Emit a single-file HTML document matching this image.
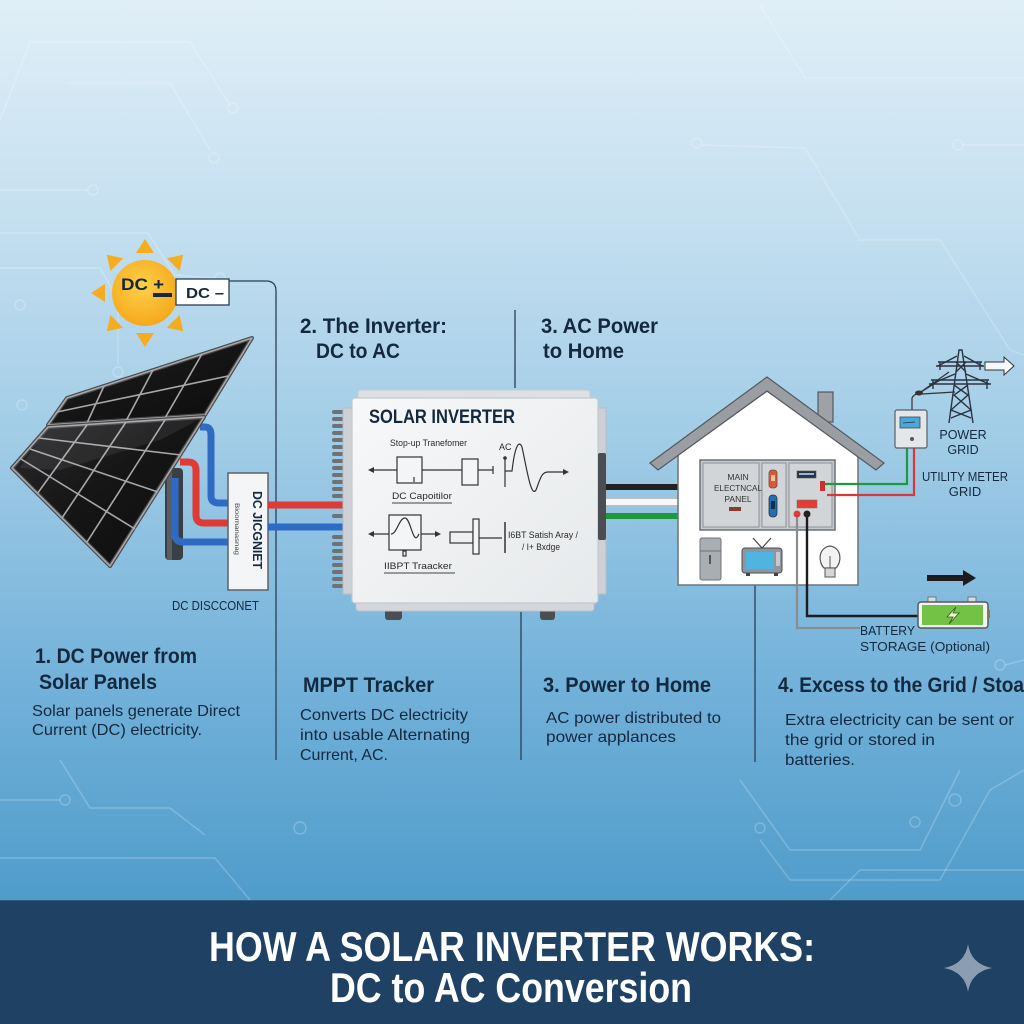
<!DOCTYPE html>
<html><head><meta charset="utf-8"><style>
html,body{margin:0;padding:0;width:1024px;height:1024px;overflow:hidden;}
svg{display:block}
.t{font-family:"Liberation Sans Narrow","Liberation Sans",sans-serif;fill:#14283e}
.b{font-weight:bold}
</style></head><body>
<svg width="1024" height="1024" viewBox="0 0 1024 1024" xmlns="http://www.w3.org/2000/svg">
<defs>
<linearGradient id="bg" x1="0" y1="0" x2="0" y2="1">
<stop offset="0" stop-color="#e0eff7"/>
<stop offset="0.25" stop-color="#c4dff0"/>
<stop offset="0.5" stop-color="#9fcbe6"/>
<stop offset="0.75" stop-color="#74b2da"/>
<stop offset="1" stop-color="#4f9ccb"/>
</linearGradient>
<radialGradient id="sun" cx="0.45" cy="0.4" r="0.6">
<stop offset="0" stop-color="#ffd04a"/>
<stop offset="1" stop-color="#f5a91c"/>
</radialGradient>
<linearGradient id="inv" x1="0" y1="0" x2="1" y2="1">
<stop offset="0" stop-color="#f7f8f9"/>
<stop offset="1" stop-color="#e6e9eb"/>
</linearGradient>
<linearGradient id="pan" x1="0" y1="0" x2="1" y2="1">
<stop offset="0" stop-color="#2c2c2e"/>
<stop offset="0.45" stop-color="#161617"/>
<stop offset="1" stop-color="#0c0c0d"/>
</linearGradient>
</defs>

<rect x="0" y="0" width="1024" height="900" fill="url(#bg)"/>

<!-- faint circuit lines -->
<g fill="none" stroke="#ffffff" stroke-opacity="0.22" stroke-width="1.5">
<path d="M0,120 L30,42 L190,42 L230,105"/>
<circle cx="233" cy="108" r="5"/>
<path d="M68,83 L170,83 L210,150"/>
<circle cx="214" cy="158" r="5"/>
<path d="M0,190 L88,190"/><circle cx="93" cy="190" r="5"/>
<path d="M0,233 L148,233 L175,275 L214,278"/><circle cx="220" cy="278" r="5"/>
<path d="M0,268 L100,268 L118,300 L118,365"/><circle cx="118" cy="372" r="5"/>
<circle cx="20" cy="305" r="5"/><circle cx="22" cy="405" r="5"/>
<path d="M760,5 L805,78 L1024,78"/>
<path d="M702,145 L805,148 L860,240 L940,240 L1010,350 L1024,355"/>
<circle cx="697" cy="143" r="5"/>
<path d="M962,145 L1024,145"/><circle cx="958" cy="145" r="5"/>
<path d="M0,800 L60,800"/><circle cx="65" cy="800" r="5"/>
<path d="M60,760 L90,808 L170,808 L205,835"/><circle cx="300" cy="828" r="6"/>
<path d="M0,858 L215,858 L250,900"/>
<path d="M740,780 L790,850 L920,850 L945,800 L960,770"/>
<path d="M760,840 L790,880 L940,880 L990,790 L1024,770"/>
<path d="M830,900 L860,870 L1024,870"/>
<circle cx="760" cy="828" r="5"/><circle cx="915" cy="822" r="5"/><circle cx="955" cy="800" r="6"/>
<circle cx="1000" cy="665" r="5"/><path d="M1005,665 L1024,660"/>
</g>

<!-- divider lines -->
<g stroke="#2b3f55" stroke-width="1.3" fill="none">
<path d="M229,281 L266,281 Q276,281 276,291 L276,760"/>
<line x1="515" y1="310" x2="515" y2="388"/>
<line x1="521" y1="612" x2="521" y2="760"/>
<line x1="755" y1="585" x2="755" y2="762"/>
</g>

<!-- sun -->
<g fill="#f5ad1f">
<polygon points="145,239 136,253 154,253"/>
<polygon points="183.2,254.8 179.6,271.1 166.9,258.3"/>
<polygon points="183.2,331.2 166.9,327.7 179.6,314.9"/>
<polygon points="145,347 136,333 154,333"/>
<polygon points="106.8,331.2 123.1,327.7 110.4,314.9"/>
<polygon points="91,293 105,284 105,302"/>
<polygon points="106.8,254.8 123.1,258.3 110.4,271.1"/>
</g>
<circle cx="145" cy="293" r="33" fill="url(#sun)"/>
<text x="121" y="290" class="t b" font-size="17" textLength="43" lengthAdjust="spacingAndGlyphs">DC +</text>
<rect x="153" y="293" width="19" height="4" fill="#14283e"/>
<rect x="176" y="279" width="53" height="26" fill="#ffffff" stroke="#2b3f55" stroke-width="1.3"/>
<text x="186" y="298" class="t b" font-size="15" textLength="38" lengthAdjust="spacingAndGlyphs">DC –</text>

<!-- pole -->
<rect x="165" y="468" width="18" height="92" rx="4" fill="#3b3f44"/>
<rect x="167" y="468" width="5" height="92" fill="#5a5f64"/>

<!-- cables from panel -->
<g fill="none" stroke-linecap="butt" stroke-width="7">
<path d="M200,427 L205,427 Q211,427 211,435 L211,496 Q211,503 219,503 L230,503" stroke="#2f6bc4"/>
<path d="M180,462 L188,462 Q196,462 196,470 L196,515 Q196,523 204,523 L230,523" stroke="#e03a35"/>
<path d="M175,478 L175,534 Q175,542 183,542 L230,542" stroke="#2f6bc4"/>
</g>

<!-- solar panels -->
<g stroke-linejoin="round">
<polygon points="67,398 252,338 205,415 48,425" fill="url(#pan)" stroke="#4a4a4c" stroke-width="4"/>
<g stroke="#a8a8aa" stroke-width="1.6" fill="none">
<line x1="104" y1="386" x2="87" y2="423"/>
<line x1="153" y1="370" x2="126" y2="421"/>
<line x1="202" y1="354" x2="165" y2="418"/>
<line x1="57" y1="412" x2="228" y2="376"/>
<polygon points="67,398 252,338 205,415 48,425"/>
</g>
<polygon points="48,427 204,417 110,566 12,468" fill="url(#pan)" stroke="#4a4a4c" stroke-width="4"/>
<g stroke="#a8a8aa" stroke-width="1.6" fill="none">
<line x1="87" y1="425" x2="37" y2="494"/>
<line x1="126" y1="422" x2="62" y2="518"/>
<line x1="165" y1="420" x2="87" y2="542"/>
<line x1="39" y1="438" x2="181" y2="455"/>
<line x1="30" y1="449" x2="158" y2="492"/>
<line x1="21" y1="459" x2="135" y2="529"/>
<polygon points="48,427 204,417 110,566 12,468"/>
</g>
<polygon points="48,427 204,417 160,440 60,470 20,468" fill="#ffffff" fill-opacity="0.07"/>
</g>

<!-- DC disconnect box -->
<rect x="228" y="473" width="40" height="117" fill="#f4f5f6" stroke="#5d6268" stroke-width="1.5"/>
<text transform="translate(253,491) rotate(90)" class="t b" font-size="13" textLength="78" lengthAdjust="spacingAndGlyphs" fill="#111">DC JICGNIET</text>
<text transform="translate(235,503) rotate(90)" font-family="Liberation Sans,sans-serif" font-size="6" fill="#444" textLength="52" lengthAdjust="spacingAndGlyphs">Bioomanasnag</text>
<text x="172" y="610" class="t" font-size="12.5" textLength="87" lengthAdjust="spacingAndGlyphs" fill="#1c2f44">DC DISCCONET</text>

<!-- cables to inverter -->
<line x1="268" y1="505" x2="350" y2="505" stroke="#e03a35" stroke-width="7"/>
<line x1="268" y1="527" x2="350" y2="527" stroke="#2f6bc4" stroke-width="7"/>

<!-- headings top -->
<text x="300" y="333" class="t b" font-size="21" textLength="147" lengthAdjust="spacingAndGlyphs">2. The Inverter:</text>
<text x="316" y="358" class="t b" font-size="21" textLength="84" lengthAdjust="spacingAndGlyphs">DC to AC</text>
<text x="541" y="333" class="t b" font-size="21" textLength="117" lengthAdjust="spacingAndGlyphs">3. AC Power</text>
<text x="543" y="358" class="t b" font-size="21" textLength="81" lengthAdjust="spacingAndGlyphs">to Home</text>

<!-- inverter -->
<g fill="#6d7277">
<rect x="332" y="410" width="15" height="4" rx="2"/>
<rect x="332" y="417" width="15" height="4" rx="2"/>
<rect x="332" y="424" width="15" height="4" rx="2"/>
<rect x="332" y="431" width="15" height="4" rx="2"/>
<rect x="332" y="438" width="15" height="4" rx="2"/>
<rect x="332" y="445" width="15" height="4" rx="2"/>
<rect x="332" y="452" width="15" height="4" rx="2"/>
<rect x="332" y="459" width="15" height="4" rx="2"/>
<rect x="332" y="466" width="15" height="4" rx="2"/>
<rect x="332" y="473" width="15" height="4" rx="2"/>
<rect x="332" y="480" width="15" height="4" rx="2"/>
<rect x="332" y="487" width="15" height="4" rx="2"/>
<rect x="332" y="494" width="15" height="4" rx="2"/>
<rect x="332" y="514" width="15" height="4" rx="2"/>
<rect x="332" y="535" width="15" height="4" rx="2"/>
<rect x="332" y="542" width="15" height="4" rx="2"/>
<rect x="332" y="549" width="15" height="4" rx="2"/>
<rect x="332" y="556" width="15" height="4" rx="2"/>
<rect x="332" y="563" width="15" height="4" rx="2"/>
<rect x="332" y="570" width="15" height="4" rx="2"/>
<rect x="332" y="577" width="15" height="4" rx="2"/>
<rect x="332" y="584" width="15" height="4" rx="2"/>
</g>
<line x1="330" y1="505" x2="352" y2="505" stroke="#e03a35" stroke-width="7"/>
<line x1="330" y1="527" x2="352" y2="527" stroke="#2f6bc4" stroke-width="7"/>
<rect x="385" y="606" width="17" height="14" rx="3" fill="#4b4f54"/>
<rect x="540" y="606" width="15" height="14" rx="3" fill="#4b4f54"/>
<rect x="358" y="390" width="232" height="12" rx="3" fill="#dde1e4" stroke="#c5cacf"/>
<rect x="343" y="408" width="12" height="186" fill="#cdd1d5" stroke="#b8bdc2"/>
<rect x="595" y="408" width="11" height="186" fill="#cdd1d5" stroke="#b8bdc2"/>
<rect x="356" y="598" width="238" height="13" rx="3" fill="#d3d7db" stroke="#bcc1c6"/>
<rect x="352" y="398" width="246" height="205" rx="3" fill="url(#inv)" stroke="#c4c9ce" stroke-width="1.2"/>
<rect x="598" y="453" width="8" height="87" rx="2" fill="#4a4e53"/>

<text x="369" y="423" class="t b" font-size="19" textLength="146" lengthAdjust="spacingAndGlyphs" fill="#1a1a1a">SOLAR INVERTER</text>
<g font-family="Liberation Sans,sans-serif" fill="#2a2a2a">
<text x="390" y="446" font-size="9" textLength="77" lengthAdjust="spacingAndGlyphs">Stop-up Tranefomer</text>
<text x="499" y="450" font-size="9">AC</text>
<text x="392" y="499" font-size="9.5" textLength="60" lengthAdjust="spacingAndGlyphs">DC Capoitilor</text>
<text x="384" y="569" font-size="9.5" textLength="68" lengthAdjust="spacingAndGlyphs">IIBPT Traacker</text>
<text x="508" y="538" font-size="9" textLength="70" lengthAdjust="spacingAndGlyphs">I6BT Satish Aray /</text>
<text x="522" y="550" font-size="9" textLength="38" lengthAdjust="spacingAndGlyphs">/ I+ Bxdge</text>
</g>
<g fill="none" stroke="#333" stroke-width="1.2">
<line x1="371" y1="470" x2="493" y2="470"/>
<line x1="493" y1="466" x2="493" y2="474"/>
<rect x="397" y="457" width="25" height="26" fill="#f4f5f6"/>
<line x1="414" y1="477" x2="414" y2="482"/>
<rect x="462" y="459" width="16" height="26" fill="#f4f5f6"/>
<line x1="505" y1="458" x2="505" y2="487"/>
<path d="M505,471 L512,471 C515,445 519,440 522,447 C527,470 531,498 536,490 C540,480 541,472 548,472 L565,472"/>
<line x1="392" y1="503" x2="452" y2="503" stroke="#666"/>
<line x1="371" y1="534" x2="437" y2="534"/>
<rect x="389" y="515" width="32" height="35" fill="#f4f5f6"/>
<path d="M391,534 C397,534 399,518 405,518 C411,518 413,548 419,534"/>
<rect x="403" y="551" width="3" height="5"/>
<line x1="384" y1="573" x2="455" y2="573" stroke="#666"/>
<rect x="450" y="532" width="23" height="11"/>
<rect x="473" y="519" width="6" height="35" fill="#f4f5f6"/>
<line x1="479" y1="538" x2="502" y2="538"/>
<line x1="505" y1="522" x2="505" y2="553" stroke-width="1.5"/>
</g>
<g fill="#333">
<circle cx="505" cy="458" r="1.8"/>
<polygon points="368,470 374,467 374,473"/>
<polygon points="569,472 563,469 563,475"/>
<polygon points="368,534 374,531 374,537"/>
<polygon points="441,534 435,531 435,537"/>
</g>

<!-- AC cables -->
<line x1="606" y1="487" x2="702" y2="487" stroke="#222" stroke-width="6"/>
<line x1="606" y1="502" x2="702" y2="502" stroke="#b9bec2" stroke-width="9"/>
<line x1="606" y1="502" x2="702" y2="502" stroke="#f7f7f7" stroke-width="6"/>
<line x1="606" y1="516" x2="702" y2="516" stroke="#1d9a3c" stroke-width="6"/>

<!-- house -->
<rect x="818" y="392" width="15" height="30" fill="#9ea2a6" stroke="#55595d" stroke-width="1.2"/>
<polygon points="678,585 678,455 767,391 858,455 858,585" fill="#ffffff" stroke="#6f7478" stroke-width="1.5"/>
<polygon points="650,463 767,377 884,463 876,470 767,391 658,470" fill="#9a9ea2" stroke="#55595d" stroke-width="1.2"/>

<rect x="700" y="460" width="135" height="70" fill="#c6cacd" stroke="#6b7075" stroke-width="1.5"/>
<rect x="703" y="463" width="56" height="64" fill="#d2d5d8" stroke="#8d9297"/>
<rect x="762" y="463" width="24" height="64" fill="#d2d5d8" stroke="#8d9297"/>
<rect x="789" y="463" width="43" height="64" fill="#d2d5d8" stroke="#8d9297"/>
<g font-family="Liberation Sans,sans-serif" font-size="8.5" fill="#333" text-anchor="middle">
<text x="738" y="480">MAIN</text>
<text x="738" y="491" textLength="48" lengthAdjust="spacingAndGlyphs">ELECTNCAL</text>
<text x="738" y="502">PANEL</text>
</g>
<rect x="729" y="507" width="12" height="4" fill="#8b3a2a"/>
<rect x="769" y="470" width="8" height="18" rx="3" fill="#e0572f" stroke="#555" stroke-width="0.8"/>
<rect x="771" y="475" width="4" height="6" fill="#f7c0a0"/>
<rect x="769" y="495" width="8" height="22" rx="3.5" fill="#1f6fb2" stroke="#333" stroke-width="0.8"/>
<rect x="771" y="501" width="4" height="8" fill="#0d2e55"/>
<rect x="797" y="471" width="19" height="7" fill="#2b3440" stroke="#555" stroke-width="0.6"/>
<rect x="799" y="473" width="15" height="2" fill="#8fb8e0"/>
<rect x="820" y="481" width="5" height="10" fill="#c9302c"/>
<rect x="797" y="500" width="20" height="8" fill="#e43b35" stroke="#777" stroke-width="0.6"/>

<!-- meter wires -->
<path d="M825,484 L907,484 L907,448" fill="none" stroke="#1d9a3c" stroke-width="2.2"/>
<path d="M827,495 L914,495 L914,448" fill="none" stroke="#d63a34" stroke-width="2.2"/>

<!-- battery wires -->
<path d="M797,514 L797,628 L860,628" fill="none" stroke="#8a8d90" stroke-width="2.2"/>
<path d="M807,514 L807,616 L918,616" fill="none" stroke="#1c1c1c" stroke-width="2.4"/>
<circle cx="797" cy="514" r="3.5" fill="#e33a35"/>
<circle cx="807" cy="514" r="3.5" fill="#222"/>

<!-- appliances -->
<rect x="700" y="538" width="21" height="42" rx="2" fill="#a9aeb3" stroke="#6f7479"/>
<line x1="700" y1="551" x2="721" y2="551" stroke="#6f7479"/>
<rect x="709" y="555" width="2" height="9" fill="#555"/>
<rect x="742" y="548" width="40" height="25" rx="3" fill="#8f959b" stroke="#4a4f54"/>
<rect x="746" y="552" width="28" height="17" fill="#4fb4e0"/>
<rect x="776" y="552" width="4" height="14" fill="#c6cace"/>
<line x1="762" y1="548" x2="753" y2="538" stroke="#444" stroke-width="1.2"/>
<line x1="762" y1="548" x2="771" y2="538" stroke="#444" stroke-width="1.2"/>
<rect x="746" y="573" width="4" height="3" fill="#444"/><rect x="774" y="573" width="4" height="3" fill="#444"/>
<path d="M824,568 C818,562 818,548 830,546 C842,548 842,562 836,568 Z" fill="#f3f3f3" stroke="#555" stroke-width="1.2"/>
<rect x="825" y="568" width="10" height="9" fill="#d6d6d6" stroke="#555"/>
<line x1="830" y1="556" x2="830" y2="568" stroke="#555"/>

<!-- utility meter -->
<path d="M912,410 L912,398 Q914,394 918,394 L940,380 M918,394 L949,372 M922,394 L955,392" fill="none" stroke="#333" stroke-width="1.2"/>
<ellipse cx="919" cy="393" rx="4" ry="2.5" fill="#333"/>
<rect x="895" y="410" width="32" height="38" rx="2" fill="#e4e7ea" stroke="#5a5f64" stroke-width="1.2"/>
<rect x="900" y="417" width="20" height="11" fill="#4aa7d6" stroke="#3c4a58" stroke-width="0.8"/>
<line x1="903" y1="423" x2="915" y2="422" stroke="#1d3550" stroke-width="0.8"/>
<circle cx="912" cy="439" r="2" fill="#555"/>

<!-- tower -->
<g fill="none" stroke="#2b3340" stroke-width="1.4">
<path d="M949,423 L959,350 L962,350 L973,423"/>
<path d="M954,385 L968,395 L951,410 L971,418 M968,385 L954,395 L971,410 L951,418"/>
<path d="M956,362 L966,372 M966,362 L956,372"/>
<path d="M938,362 L982,362 M936,366 L984,366"/>
<path d="M931,380 L989,380 M929,384 L991,384"/>
<path d="M940,362 L940,370 M980,362 L980,370 M933,380 L933,389 M987,380 L987,389"/>
<path d="M938,366 L957,356 M982,366 L964,356 M931,384 L955,374 M989,384 L966,374"/>
</g>
<polygon points="985,362 1004,362 1004,357 1014,366 1004,375 1004,370 985,370" fill="#f4f8fb" stroke="#333" stroke-width="1"/>
<g class="t" font-size="12.5" text-anchor="middle">
<text x="963" y="439">POWER</text>
<text x="963" y="454">GRID</text>
<text x="965" y="481" font-size="13" textLength="86" lengthAdjust="spacingAndGlyphs">UTILITY METER</text>
<text x="965" y="496" font-size="13">GRID</text>
</g>

<!-- battery -->
<polygon points="927,575 963,575 963,570 976,578 963,586 963,581 927,581" fill="#1c1c1c"/>
<rect x="928" y="597" width="8" height="6" fill="#d8dadc" stroke="#666" stroke-width="0.8"/>
<rect x="968" y="597" width="8" height="6" fill="#d8dadc" stroke="#666" stroke-width="0.8"/>
<rect x="918" y="602" width="70" height="26" rx="3" fill="#f2f3f4" stroke="#55595e" stroke-width="1.5"/>
<rect x="922" y="605" width="61" height="20" fill="#73c246"/>
<rect x="987" y="610" width="3" height="8" fill="#8a7a3a"/>
<path d="M956,607 L947,617 L953,617 L949,624 L959,613 L953,613 Z" fill="#e8f5d8" stroke="#2f5e1a" stroke-width="0.8"/>
<text x="860" y="635" class="t" font-size="13" textLength="55" lengthAdjust="spacingAndGlyphs">BATTERY</text>
<text x="860" y="651" class="t" font-size="13" textLength="130" lengthAdjust="spacingAndGlyphs">STORAGE  (Optional)</text>

<!-- bottom text blocks -->
<text x="35" y="663" class="t b" font-size="21" textLength="162" lengthAdjust="spacingAndGlyphs">1. DC Power from</text>
<text x="39" y="689" class="t b" font-size="21" textLength="118" lengthAdjust="spacingAndGlyphs">Solar Panels</text>
<text x="32" y="716" class="t" font-size="16" textLength="208" lengthAdjust="spacingAndGlyphs">Solar panels generate Direct</text>
<text x="32" y="735" class="t" font-size="16" textLength="170" lengthAdjust="spacingAndGlyphs">Current (DC) electricity.</text>

<text x="303" y="692" class="t b" font-size="21" textLength="131" lengthAdjust="spacingAndGlyphs">MPPT Tracker</text>
<text x="300" y="720" class="t" font-size="16" textLength="168" lengthAdjust="spacingAndGlyphs">Converts DC electricity</text>
<text x="300" y="740" class="t" font-size="16" textLength="170" lengthAdjust="spacingAndGlyphs">into usable Alternating</text>
<text x="300" y="760" class="t" font-size="16" textLength="88" lengthAdjust="spacingAndGlyphs">Current, AC.</text>

<text x="543" y="692" class="t b" font-size="21" textLength="168" lengthAdjust="spacingAndGlyphs">3. Power to Home</text>
<text x="546" y="723" class="t" font-size="16" textLength="175" lengthAdjust="spacingAndGlyphs">AC power distributed to</text>
<text x="546" y="742" class="t" font-size="16" textLength="130" lengthAdjust="spacingAndGlyphs">power applances</text>

<text x="778" y="692" class="t b" font-size="21" textLength="246" lengthAdjust="spacingAndGlyphs">4. Excess to the Grid / Stoa</text>
<text x="785" y="725" class="t" font-size="16" textLength="229" lengthAdjust="spacingAndGlyphs">Extra electricity can be sent or</text>
<text x="785" y="745" class="t" font-size="16" textLength="150" lengthAdjust="spacingAndGlyphs">the grid or stored in</text>
<text x="785" y="765" class="t" font-size="16" textLength="70" lengthAdjust="spacingAndGlyphs">batteries.</text>

<!-- banner -->
<rect x="0" y="900" width="1024" height="124" fill="#1f4264"/>
<line x1="0" y1="900.5" x2="1024" y2="900.5" stroke="#2f5a80" stroke-width="1"/>
<text x="512" y="961" text-anchor="middle" font-family="Liberation Sans Narrow,Liberation Sans,sans-serif" font-weight="bold" font-size="42" fill="#ffffff" textLength="606" lengthAdjust="spacingAndGlyphs">HOW A SOLAR INVERTER WORKS:</text>
<text x="511" y="1002" text-anchor="middle" font-family="Liberation Sans Narrow,Liberation Sans,sans-serif" font-weight="bold" font-size="42" fill="#ffffff" textLength="362" lengthAdjust="spacingAndGlyphs">DC to AC Conversion</text>
<path d="M968,944 Q971,964 992,968 Q971,972 968,992 Q965,972 944,968 Q965,964 968,944 Z" fill="#8a9db3"/>
</svg>
</body></html>
